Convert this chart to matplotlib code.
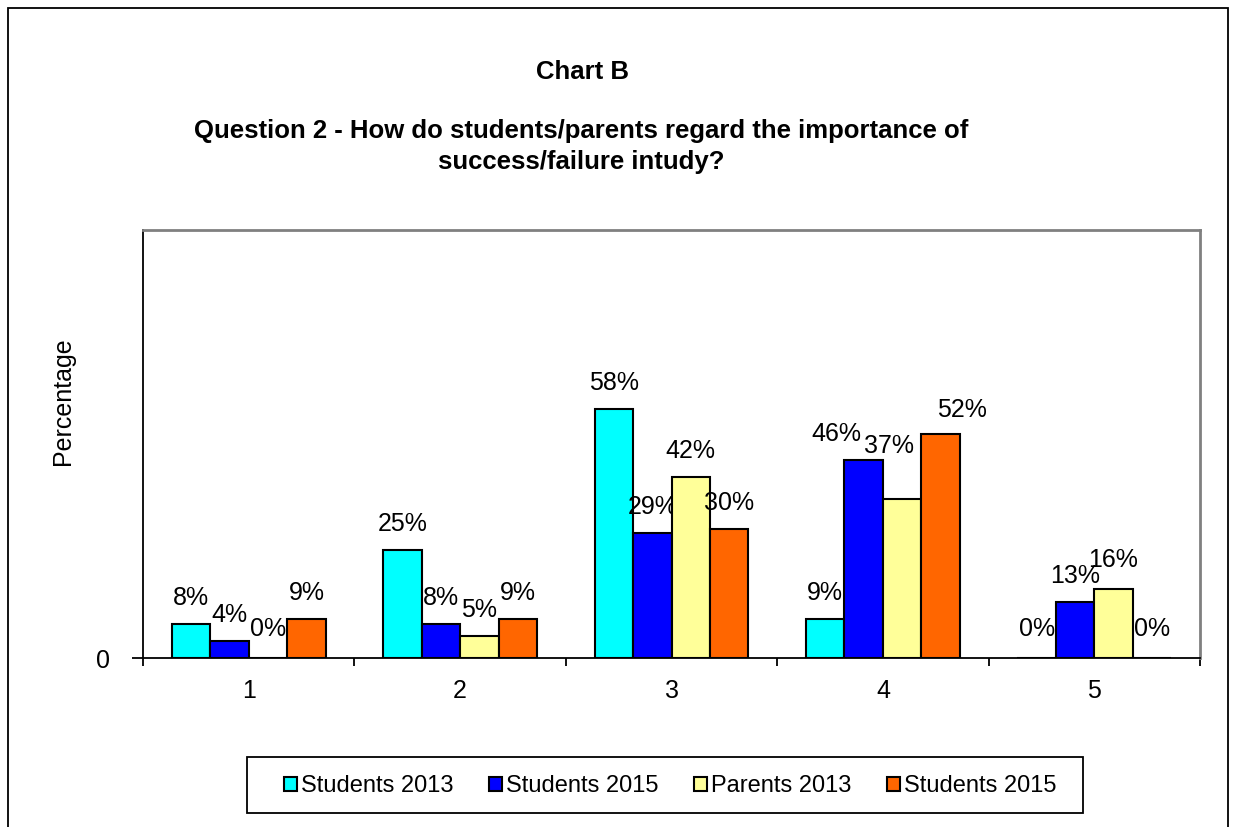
import matplotlib.pyplot as plt
from matplotlib.patches import Patch, Rectangle

plt.rcParams['font.family'] = ['Liberation Sans', 'DejaVu Sans']

categories = ['1', '2', '3', '4', '5']
series_names = ['Students 2013', 'Students 2015', 'Parents 2013', 'Students 2015']
students_2013 = [8, 25, 58, 9, 0]
students_2015 = [4, 8, 29, 46, 13]
parents_2013 = [0, 5, 42, 37, 16]
students_2015_b = [9, 9, 30, 52, 0]
colors = ['#00FFFF', '#0000FF', '#FFFF99', '#FF6600']

series = [students_2013, students_2015, parents_2013, students_2015_b]

# labels pushed aside so they don't overlap (series, category) -> (dx, dy) px
label_nudge = {(1, 3): (-27, 0), (2, 3): (-13, 27), (3, 3): (21, -2),
               (2, 4): (0, 3)}

W, H = 1235, 827
fig = plt.figure(figsize=(W / 100, H / 100), dpi=100)
ax = fig.add_axes([143 / W, 1 - 658 / H, (1200 - 143) / W, (658 - 230) / H])

# outer chart border
fig.patches.append(Rectangle((8 / W, -0.05), (1228 - 8) / W, 1.05 - 8 / H,
                             transform=fig.transFigure, fill=False,
                             edgecolor='black', linewidth=1.3))

bw = 0.182
x = list(range(len(categories)))
for k, vals in enumerate(series):
    off = (k - 1.5) * bw
    xs = [i + off for i in x]
    ax.bar(xs, vals, width=bw, color=colors[k], edgecolor='black',
           linewidth=1.5, zorder=3)
    for i, (xi, v) in enumerate(zip(xs, vals)):
        dx, dy = label_nudge.get((k, i), (0, 0))
        base = 17 if v == 0 else 14
        ax.annotate(f'{v}%', (xi, v), xytext=(dx, base + dy),
                    textcoords='offset pixels', ha='center', va='bottom',
                    fontsize=18)

ax.set_xlim(-0.5, len(categories) - 0.5)
ax.set_ylim(0, 99.5)

ax.set_xticks([i - 0.5 for i in range(len(categories) + 1)])
ax.set_xticklabels([])
ax.set_xticks(x, minor=True)
ax.set_xticklabels(categories, minor=True, fontsize=18)
ax.tick_params(axis='x', which='major', direction='out', length=6, width=1.3)
ax.tick_params(axis='x', which='minor', length=0, pad=15)
ax.set_yticks([0])
ax.set_yticklabels(['0'], fontsize=18)
ax.tick_params(axis='y', direction='out', length=8, width=1.3, pad=16)

for side in ['left', 'bottom']:
    ax.spines[side].set_color('black')
    ax.spines[side].set_linewidth(1.3)
for side in ['top', 'right']:
    ax.spines[side].set_color('#808080')
    ax.spines[side].set_linewidth(2)

fig.text(582 / W, 1 - 72 / H, 'Chart B', ha='center', va='center',
         fontsize=18.5, fontweight='bold')
fig.text(581 / W, 1 - 131 / H,
         'Question 2 - How do students/parents regard the importance of',
         ha='center', va='center', fontsize=18.5, fontweight='bold')
fig.text(581 / W, 1 - 162 / H, 'success/failure intudy?',
         ha='center', va='center', fontsize=18.5, fontweight='bold')
fig.text(63 / W, 1 - 401 / H, 'Percentage', rotation=90, ha='center',
         va='center', fontsize=18)

# legend frame drawn separately
fig.patches.append(Rectangle((247 / W, 1 - 813 / H), (1083 - 247) / W,
                             (813 - 757) / H, transform=fig.transFigure,
                             fill=False, edgecolor='black', linewidth=1.3))
handles = [Patch(facecolor=c, edgecolor='black', linewidth=1.5) for c in colors]
leg = fig.legend(handles, series_names, loc='center',
                 bbox_to_anchor=(670 / W, 1 - 786 / H), ncol=4, fontsize=17,
                 frameon=False, handlelength=0.55, handleheight=0.55,
                 handletextpad=0.17, columnspacing=1.5,
                 borderpad=0, borderaxespad=0)

fig.savefig('out.png', dpi=100)
